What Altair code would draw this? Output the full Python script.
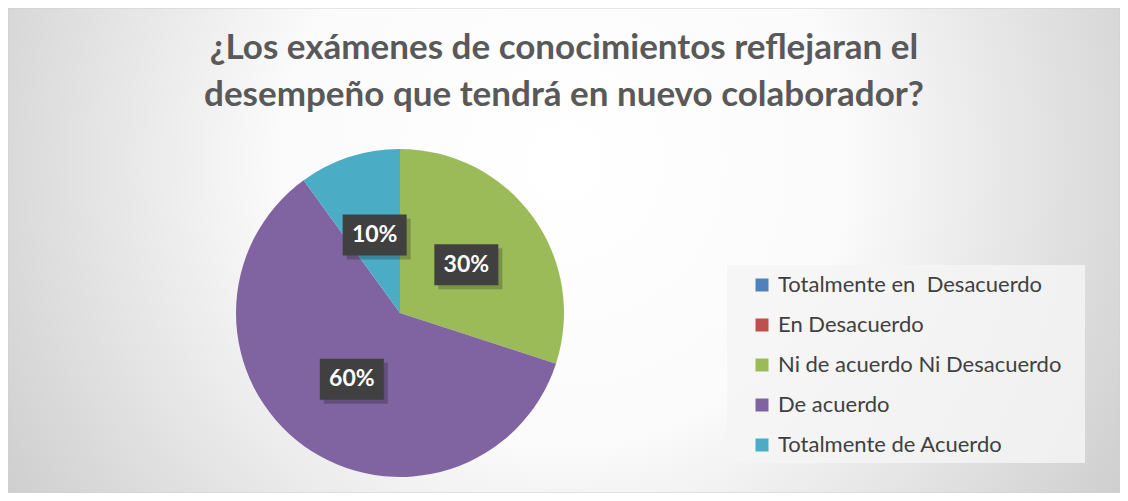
import altair as alt
import pandas as pd

# ---- data ----
categories = [
    "Totalmente en \u00a0Desacuerdo",
    "En Desacuerdo",
    "Ni de acuerdo Ni Desacuerdo",
    "De acuerdo",
    "Totalmente de Acuerdo",
]
values = [0, 0, 30, 60, 10]
colors = ["#4f81bd", "#c0504d", "#9bbb59", "#8064a2", "#4bacc6"]
title_lines = [
    "¿Los exámenes de conocimientos reflejaran el",
    "desempeño que tendrá en nuevo colaborador?",
]

W, H = 1112, 485
CX, CY, R = 392, 305, 164
LR = 82  # label radius

df = pd.DataFrame({"category": categories, "value": values, "idx": list(range(len(values)))})
one = alt.Data(values=[{"k": 1}])

bg = alt.Chart(one).mark_rect(
    fill={
        "gradient": "radial",
        "x1": 0.5, "y1": 0.42, "r1": 0,
        "x2": 0.5, "y2": 0.42, "r2": 0.72,
        "stops": [
            {"offset": 0, "color": "#ffffff"},
            {"offset": 0.35, "color": "#fbfbfb"},
            {"offset": 1, "color": "#bcbcbc"},
        ],
    },
    stroke="#d0d0d0",
    strokeWidth=1,
).encode(x=alt.value(0), x2=alt.value(W), y=alt.value(0), y2=alt.value(H))

legend_box = alt.Chart(one).mark_rect(fill="#f4f4f4", opacity=0.85).encode(
    x=alt.value(719), x2=alt.value(1077), y=alt.value(257), y2=alt.value(455)
)

title = alt.Chart(one).mark_text(
    text=title_lines,
    font="Lato",
    fontWeight="bold",
    fontSize=35,
    color="#595959",
    align="center",
    baseline="middle",
    lineHeight=47,
).encode(x=alt.value(556), y=alt.value(40))

base = alt.Chart(df)

pie = base.mark_arc(outerRadius=R, strokeWidth=0).encode(
    theta=alt.Theta("value:Q", stack=True),
    order=alt.Order("idx:Q"),
    color=alt.Color(
        "category:N",
        scale=alt.Scale(domain=categories, range=colors),
        legend=alt.Legend(
            title=None,
            orient="none",
            legendX=743,
            legendY=266,
            symbolType="square",
            symbolSize=169,
            symbolStrokeWidth=0,
            symbolOpacity=1,
            labelFont="Lato",
            labelFontSize=22,
            labelColor="#404040",
            labelOffset=5,
            labelLimit=400,
            rowPadding=18,
            padding=0,
        ),
    ),
    x=alt.value(CX),
    y=alt.value(CY),
)

lab = (
    base.transform_joinaggregate(total="sum(value)")
    .transform_window(cum="sum(value)", sort=[alt.SortField("idx")], frame=[None, 0])
    .transform_filter("datum.value > 0")
    .transform_calculate(
        ang="(datum.cum - datum.value/2) / datum.total * 2 * PI",
        pct="format(datum.value / datum.total, '.0%')",
    )
    .transform_calculate(
        lx=f"{CX} + {LR} * sin(datum.ang)",
        ly=f"{CY} - {LR} * cos(datum.ang)",
    )
)

shape = "M-1,-0.64L1,-0.64L1,0.64L-1,0.64Z"
shadow = lab.mark_point(
    shape=shape, size=4096, filled=True, fill="#000000", opacity=0.22, strokeWidth=0,
    xOffset=4, yOffset=4,
).encode(x=alt.X("lx:Q", scale=None), y=alt.Y("ly:Q", scale=None))

box = lab.mark_point(
    shape=shape, size=4096, filled=True, fill="#404040", opacity=1, strokeWidth=0,
).encode(x=alt.X("lx:Q", scale=None), y=alt.Y("ly:Q", scale=None))

txt = lab.mark_text(
    font="Lato", fontWeight="bold", fontSize=23, color="#ffffff",
    align="center", baseline="middle",
).encode(x=alt.X("lx:Q", scale=None), y=alt.Y("ly:Q", scale=None), text="pct:N")

chart = alt.layer(bg, legend_box, title, pie, shadow, box, txt).properties(
    width=W,
    height=H,
    padding=0,
    autosize=alt.AutoSizeParams(type="none"),
).configure_view(stroke=None)

chart.save("out.html", embed_options={"renderer": "svg", "actions": False})
